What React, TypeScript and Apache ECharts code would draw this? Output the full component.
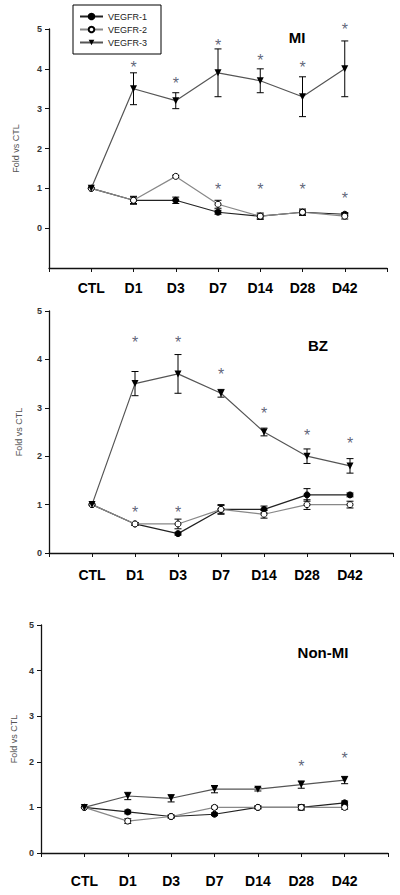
import React, { useEffect, useRef } from "react";
import * as echarts from "echarts";

const categories = ["CTL", "D1", "D3", "D7", "D14", "D28", "D42"];
const seriesNames = ["VEGFR-1", "VEGFR-2", "VEGFR-3"];
const yTickValues = [0, 1, 2, 3, 4, 5];
const panelTitles = ["MI", "BZ", "Non-MI"];

// MI panel
const miV1 = [1.0, 0.7, 0.7, 0.4, 0.3, 0.4, 0.35];
const miV1Err = [0, 0.1, 0.08, 0.05, 0.05, 0.05, 0.04];
const miV2 = [1.0, 0.7, 1.3, 0.6, 0.3, 0.4, 0.3];
const miV2Err = [0, 0.08, 0.03, 0.1, 0.08, 0.08, 0.07];
const miV3 = [1.0, 3.5, 3.2, 3.9, 3.7, 3.3, 4.0];
const miV3Err = [0, 0.4, 0.2, 0.6, 0.3, 0.5, 0.7];
const miStarCats = ["D1", "D3", "D7", "D14", "D28", "D42", "D7", "D14", "D28", "D42"];
const miStarVals = [4.04, 3.64, 4.58, 4.2, 4.04, 5.0, 0.96, 0.96, 0.96, 0.75];

// BZ panel
const bzV1 = [1.0, 0.6, 0.4, 0.9, 0.9, 1.2, 1.2];
const bzV1Err = [0, 0.03, 0.03, 0.1, 0.07, 0.13, 0.04];
const bzV2 = [1.0, 0.6, 0.6, 0.9, 0.8, 1.0, 1.0];
const bzV2Err = [0, 0.03, 0.1, 0.08, 0.08, 0.1, 0.07];
const bzV3 = [1.0, 3.5, 3.7, 3.3, 2.5, 2.0, 1.8];
const bzV3Err = [0, 0.25, 0.4, 0.08, 0.08, 0.15, 0.15];
const bzStarCats = ["D1", "D3", "D7", "D14", "D28", "D42", "D1", "D3"];
const bzStarVals = [4.34, 4.34, 3.69, 2.88, 2.42, 2.26, 0.84, 0.84];

// Non-MI panel
const nmV1 = [1.0, 0.9, 0.8, 0.85, 1.0, 1.0, 1.1];
const nmV1Err = [0, 0.04, 0.03, 0.03, 0.03, 0.04, 0.04];
const nmV2 = [1.0, 0.7, 0.8, 1.0, 1.0, 1.0, 1.0];
const nmV2Err = [0, 0.05, 0.03, 0.03, 0.03, 0.06, 0.04];
const nmV3 = [1.0, 1.25, 1.2, 1.4, 1.4, 1.5, 1.6];
const nmV3Err = [0, 0.08, 0.08, 0.08, 0.04, 0.08, 0.08];
const nmStarCats = ["D28", "D42"];
const nmStarVals = [1.9, 2.08];

const FONT = "'Liberation Sans', Arial, sans-serif";
const TRI_DOWN = "path://M0,0 L10,0 L5,9 Z";

const panels = [
  {
    title: panelTitles[0],
    vals: [miV1, miV2, miV3],
    errs: [miV1Err, miV2Err, miV3Err],
    starCats: miStarCats,
    starVals: miStarVals,
    grid: { left: 49, top: 29, width: 338, height: 239 },
    yMin: -1,
    labelMargin: 13,
    nameGap: 29,
    titlePos: [297, 37],
  },
  {
    title: panelTitles[1],
    vals: [bzV1, bzV2, bzV3],
    errs: [bzV1Err, bzV2Err, bzV3Err],
    starCats: bzStarCats,
    starVals: bzStarVals,
    grid: { left: 49, top: 311, width: 344, height: 242 },
    yMin: 0,
    labelMargin: 15,
    nameGap: 26,
    titlePos: [318, 345],
  },
  {
    title: panelTitles[2],
    vals: [nmV1, nmV2, nmV3],
    errs: [nmV1Err, nmV2Err, nmV3Err],
    starCats: nmStarCats,
    starVals: nmStarVals,
    grid: { left: 41, top: 625, width: 347, height: 228 },
    yMin: 0,
    labelMargin: 21,
    nameGap: 23,
    titlePos: [323, 652],
  },
];

const seriesStyles = [
  { symbol: "circle", symbolSize: 6, itemStyle: { color: "#000", borderColor: "#000", borderWidth: 1 }, lineColor: "#222" },
  { symbol: "circle", symbolSize: 6, itemStyle: { color: "#fff", borderColor: "#000", borderWidth: 1 }, lineColor: "#888" },
  { symbol: TRI_DOWN, symbolSize: 7, itemStyle: { color: "#000", borderColor: "#000", borderWidth: 0 }, lineColor: "#555" },
];

function errorBarRender(params: any, api: any) {
  const x = api.value(0);
  const y = api.value(1);
  const e = api.value(2);
  if (!e) return { type: "group", children: [] };
  const top = api.coord([x, y + e]);
  const bot = api.coord([x, y - e]);
  const hw = 3.5;
  const style = { stroke: "#000", lineWidth: 1 };
  return {
    type: "group",
    children: [
      { type: "line", shape: { x1: top[0], y1: top[1], x2: bot[0], y2: bot[1] }, style },
      { type: "line", shape: { x1: top[0] - hw, y1: top[1], x2: top[0] + hw, y2: top[1] }, style },
      { type: "line", shape: { x1: bot[0] - hw, y1: bot[1], x2: bot[0] + hw, y2: bot[1] }, style },
    ],
  };
}

function buildOption() {
  const grid: any[] = [];
  const xAxis: any[] = [];
  const yAxis: any[] = [];
  const series: any[] = [];
  const graphic: any[] = [];

  panels.forEach((p, pi) => {
    grid.push({ ...p.grid, containLabel: false });
    xAxis.push({
      type: "value",
      gridIndex: pi,
      min: 0,
      max: categories.length + 1,
      interval: 1,
      axisLine: { show: true, onZero: false, lineStyle: { color: "#111", width: 1.3 } },
      axisTick: { show: true, length: 4, lineStyle: { color: "#111" } },
      splitLine: { show: false },
      axisLabel: {
        margin: p.labelMargin,
        fontFamily: FONT,
        fontSize: 14,
        fontWeight: "bold",
        color: "#000",
        formatter: (v: number) => {
          const i = Math.round(v) - 1;
          return i >= 0 && i < categories.length ? categories[i] : "";
        },
      },
    });
    yAxis.push({
      type: "value",
      gridIndex: pi,
      min: p.yMin,
      max: 5,
      interval: 1,
      name: "Fold vs CTL",
      nameLocation: "middle",
      nameGap: p.nameGap,
      nameTextStyle: { fontFamily: FONT, fontSize: 9, color: "#555" },
      axisLine: { show: true, lineStyle: { color: "#111", width: 1.3 } },
      axisTick: { show: true, length: 4, lineStyle: { color: "#111" }, customValues: yTickValues },
      splitLine: { show: false },
      axisLabel: {
        margin: 7,
        fontFamily: FONT,
        fontSize: 9,
        fontWeight: "bold",
        color: "#333",
        customValues: yTickValues,
        formatter: (v: number) => (v < 0 ? "" : String(v)),
      },
    });

    // error bars
    p.vals.forEach((vals, si) => {
      series.push({
        type: "custom",
        name: seriesNames[si] + "-err",
        xAxisIndex: pi,
        yAxisIndex: pi,
        renderItem: errorBarRender,
        z: 2,
        silent: true,
        data: vals.map((v, i) => [i + 1, v, p.errs[si][i]]),
      });
    });
    // lines
    p.vals.forEach((vals, si) => {
      const st = seriesStyles[si];
      series.push({
        type: "line",
        name: seriesNames[si],
        xAxisIndex: pi,
        yAxisIndex: pi,
        symbol: st.symbol,
        symbolSize: st.symbolSize,
        showAllSymbol: true,
        itemStyle: st.itemStyle,
        lineStyle: { color: st.lineColor, width: 1.2 },
        z: 3 + si,
        data: vals.map((v, i) => [i + 1, v]),
      });
    });
    // significance stars
    series.push({
      type: "scatter",
      name: "sig",
      xAxisIndex: pi,
      yAxisIndex: pi,
      symbolSize: 2,
      itemStyle: { color: "rgba(0,0,0,0)" },
      silent: true,
      z: 10,
      label: {
        show: true,
        position: "inside",
        formatter: "*",
        fontFamily: FONT,
        fontSize: 16,
        color: "#363d58",
        offset: [0, 3],
      },
      labelLayout: { hideOverlap: false },
      data: p.starCats.map((c, i) => [categories.indexOf(c) + 1, p.starVals[i]]),
    });

    graphic.push({
      type: "text",
      x: p.titlePos[0],
      y: p.titlePos[1],
      style: {
        text: p.title,
        fontFamily: FONT,
        fontSize: 15,
        fontWeight: "bold",
        fill: "#000",
        textAlign: "center",
        textVerticalAlign: "middle",
      },
    });
  });

  return {
    animation: false,
    backgroundColor: "#fff",
    grid,
    xAxis,
    yAxis,
    series,
    graphic,
    legend: {
      data: seriesNames,
      orient: "vertical",
      left: 73,
      top: 5,
      itemWidth: 23,
      itemHeight: 7,
      itemGap: 4,
      padding: [7, 14, 7, 6],
      borderColor: "#000",
      borderWidth: 1,
      selectedMode: false,
      textStyle: { fontFamily: FONT, fontSize: 9, color: "#222" },
    },
  };
}

export default function App() {
  const ref = useRef<HTMLDivElement>(null);
  useEffect(() => {
    if (!ref.current) return;
    const chart = echarts.init(ref.current, undefined, { renderer: "svg" });
    chart.setOption(buildOption() as any);
    return () => chart.dispose();
  }, []);
  return (
    <div
      ref={ref}
      style={{ position: "absolute", left: 0, top: 0, width: 400, height: 895, background: "#fff" }}
    />
  );
}
